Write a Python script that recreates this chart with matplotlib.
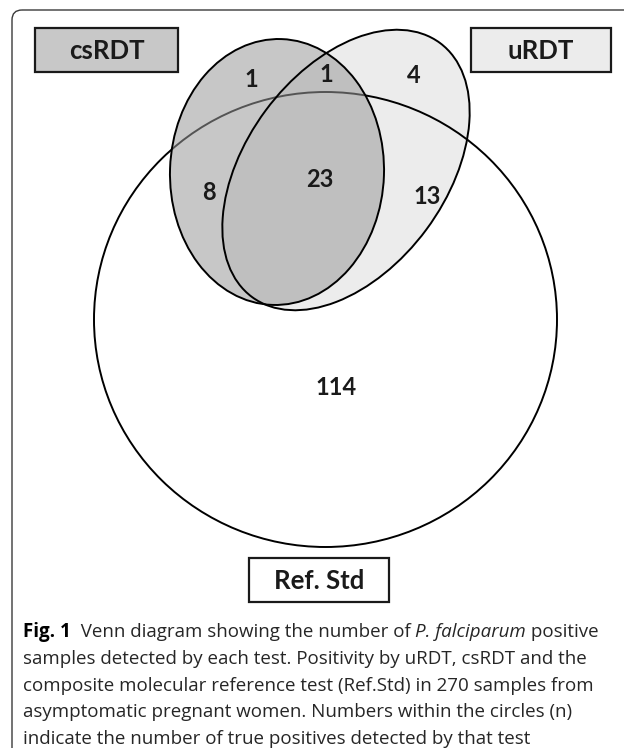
import matplotlib
matplotlib.use("Agg")
import matplotlib.pyplot as plt
from matplotlib.patches import Ellipse, Rectangle, FancyBboxPatch

# ---- data ----
set_names = ["csRDT", "uRDT", "Ref. Std"]
region_names = ["csRDT only", "csRDT & uRDT", "uRDT only", "csRDT & Ref",
                "all three", "uRDT & Ref", "Ref only"]
region_counts = [1, 1, 4, 8, 23, 13, 114]

caption_lines = [
    [("Fig. 1", "bold"), ("  Venn diagram showing the number of ", "normal"),
     ("P. falciparum", "italic"), (" positive", "normal")],
    [("samples detected by each test. Positivity by uRDT, csRDT and the", "normal")],
    [("composite molecular reference test (Ref.Std) in 270 samples from", "normal")],
    [("asymptomatic pregnant women. Numbers within the circles (n)", "normal")],
    [("indicate the number of true positives detected by that test", "normal")],
]

# ---- layout (pixel coordinates) ----
W, H = 624, 748
fig = plt.figure(figsize=(W / 100, H / 100), dpi=100)
ax = fig.add_axes([0, 0, 1, 1])
ax.set_xlim(0, W)
ax.set_ylim(H, 0)
ax.axis("off")

LBL_FONT = "Lato"
CAP_FONT = "Open Sans"

# outer rounded frame (only top and left visible)
ax.add_patch(FancyBboxPatch((12, 10), 720, 820,
                            boxstyle="round,pad=0,rounding_size=10",
                            fc="none", ec="#3a3a3a", lw=1.0, zorder=0))

# Ref. Std big circle
ref_c, ref_w, ref_h = (325.5, 319.5), 463, 455
ax.add_patch(Ellipse(ref_c, ref_w, ref_h, fc="white", ec="none", zorder=1))
# uRDT ellipse fill
u_c, u_w, u_h, u_ang = (346, 170), 316, 200, -53.5
ax.add_patch(Ellipse(u_c, u_w, u_h, angle=u_ang, fc="#ececec", ec="none", zorder=2))
# big circle outline
ax.add_patch(Ellipse(ref_c, ref_w, ref_h, fc="none", ec="black", lw=1.4, zorder=3))
# csRDT ellipse fill (translucent)
c_c, c_w, c_h, c_ang = (277, 172), 214, 266, 2
ax.add_patch(Ellipse(c_c, c_w, c_h, angle=c_ang, fc="#9a9a9a", alpha=0.55, ec="none", zorder=4))
# outlines
ax.add_patch(Ellipse(u_c, u_w, u_h, angle=u_ang, fc="none", ec="black", lw=1.4, zorder=5))
ax.add_patch(Ellipse(c_c, c_w, c_h, angle=c_ang, fc="none", ec="black", lw=1.4, zorder=5))

# set label boxes
box_specs = [((35, 28), 143, 44, "#c8c8c8"),
             ((471, 28), 140, 44, "#ececec"),
             ((249, 558), 140, 44, "white")]
for name, (xy, bw, bh, col) in zip(set_names, box_specs):
    ax.add_patch(Rectangle(xy, bw, bh, fc=col, ec="#1a1a1a", lw=1.6, zorder=6))
    ax.text(xy[0] + bw / 2, xy[1] + bh / 2 + 1, name, ha="center", va="center",
            fontsize=18.5, fontweight="bold", family=LBL_FONT, color="#1a1a1a", zorder=7)

# region counts
count_pos = [(251, 79), (326, 74), (414, 75), (209, 192), (320, 179), (427, 196), (336, 387)]
for n, (x, y) in zip(region_counts, count_pos):
    ax.text(x, y, str(n), ha="center", va="center", fontsize=17, fontweight="bold",
            family=LBL_FONT, color="#1a1a1a", zorder=8)

# caption with mixed styles
fig.canvas.draw()
r = fig.canvas.get_renderer()
cap_size = 13.5
def width_of(s, style):
    kw = dict(fontsize=cap_size, family=CAP_FONT)
    if style == "bold":
        kw["fontweight"] = "bold"
    if style == "italic":
        kw["fontstyle"] = "italic"
    t = ax.text(0, 0, "|" + s + "|", **kw)
    t2 = ax.text(0, 0, "||", **kw)
    w = t.get_window_extent(r).width - t2.get_window_extent(r).width
    t.remove(); t2.remove()
    return w, kw

x0, y0, dy = 23, 637, 26.8
for i, line in enumerate(caption_lines):
    x = x0
    for s, style in line:
        w, kw = width_of(s, style)
        col = "black" if style == "bold" else "#262626"
        ax.text(x, y0 + i * dy, s, ha="left", va="baseline", color=col, **kw)
        x += w

fig.savefig("out.png", dpi=100)
